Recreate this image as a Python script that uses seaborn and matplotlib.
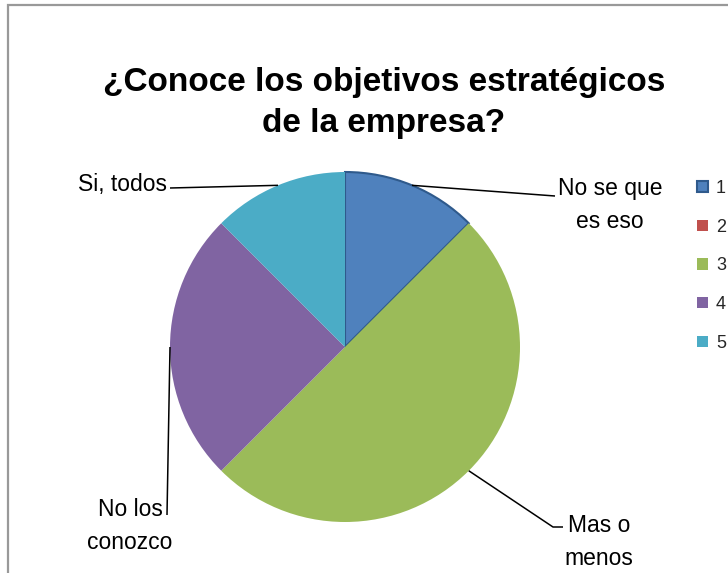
import numpy as np
import matplotlib
matplotlib.use("Agg")
import matplotlib.pyplot as plt
from matplotlib.patches import Rectangle
import seaborn as sns

# Survey answers: legend codes, counts and the text shown beside each slice
codes = ["1", "2", "3", "4", "5"]
counts = [1, 0, 4, 2, 1]
answers = ["No se que\nes eso", "", "Mas o\nmenos", "No los\nconozco", "Si, todos"]
title = "¿Conoce los objetivos estratégicos\nde la empresa?"

sns.set_theme(style="white")
plt.rcParams["font.family"] = ["Liberation Sans", "DejaVu Sans"]

palette = sns.color_palette(["#4F81BD", "#C0504D", "#9BBB59", "#8064A2", "#4BACC6"])

W, H = 728, 573
fig = plt.figure(figsize=(W / 100, H / 100), dpi=100)
ax = fig.add_axes([0, 0, 1, 1])

# pie centre and radius in pixels
cx, cy, R = 345, 347, 175


def px(x, y):
    """figure pixel (from top-left) -> data coordinates"""
    return (x - cx) / R, (cy - y) / R


wedges, _ = ax.pie(counts, colors=palette, startangle=90, counterclock=False,
                   radius=1.0, center=(0, 0),
                   wedgeprops=dict(linewidth=0))
wedges[0].set_edgecolor("#2F5A8C")
wedges[0].set_linewidth(1.5)

ax.set_xlim(-cx / R, (W - cx) / R)
ax.set_ylim(-(H - cy) / R, cy / R)
ax.set_aspect("equal")
ax.axis("off")

# label placement (pixel positions of the text and the elbow of each leader)
label_pos = {
    0: dict(text=(610, 205), elbow=None, end=(555, 196)),
    2: dict(text=(599, 542), elbow=(553, 527), end=(563, 527)),
    3: dict(text=(130, 526), elbow=None, end=(167, 515)),
    4: dict(text=(122, 185), elbow=None, end=(170, 188)),
}

total = sum(counts)
start = 90.0
for i, c in enumerate(counts):
    sweep = 360.0 * c / total
    mid = np.deg2rad(start - sweep / 2)
    start -= sweep
    if i not in label_pos or c == 0:
        continue
    p = label_pos[i]
    edge = (np.cos(mid), np.sin(mid))
    pts = [edge]
    if p["elbow"] is not None:
        pts.append(px(*p["elbow"]))
    pts.append(px(*p["end"]))
    xs, ys = zip(*pts)
    ax.plot(xs, ys, color="black", lw=1.1, solid_capstyle="butt")
    tx, ty = px(*p["text"])
    ax.text(tx, ty, answers[i], ha="center", va="center", fontsize=16.5,
            linespacing=1.6, color="black")

fig.text(384 / W, 1 - 103 / H, title, ha="center", va="center",
         fontsize=24, fontweight="bold", linespacing=1.45, color="black")

ax.legend(wedges, codes, loc="upper left", bbox_to_anchor=(697 / W, 1 - 180 / H),
          bbox_transform=fig.transFigure, frameon=False, fontsize=13,
          handlelength=0.6, handleheight=0.6, handletextpad=0.45,
          labelspacing=1.2, borderaxespad=0, borderpad=0)

# outer chart frame (continues past the right and bottom edges)
fig.patches.append(Rectangle((8 / W, -0.1), 1.2, 1 - 5 / H + 0.1,
                             transform=fig.transFigure, fill=False,
                             edgecolor="#999999", lw=1.6))

fig.savefig("out.png", dpi=100)
